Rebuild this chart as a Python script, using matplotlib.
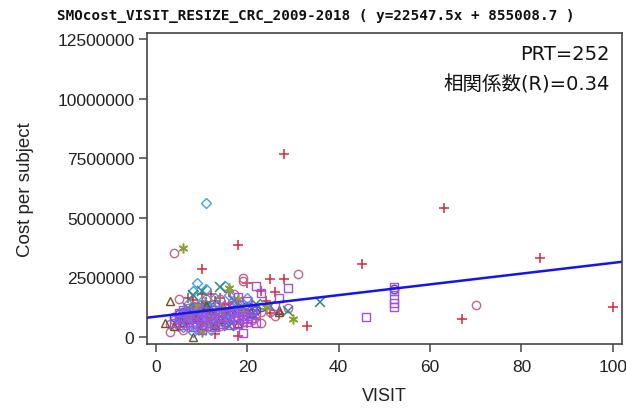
import numpy as np
import matplotlib
matplotlib.use("Agg")
import matplotlib.pyplot as plt

plt.rcParams['font.family'] = ['Liberation Sans', 'Noto Sans CJK JP']

# visits / cost per subject, one pair of lists per marker group
red_x = [28, 63, 18, 45, 84, 100, 67, 33, 10, 25, 28, 20, 23, 26, 12, 10, 13, 18, 25, 27,
         6, 7, 8, 9, 10, 11, 12, 13, 14, 15, 16, 17, 19, 20, 21, 22, 14, 16, 8, 11, 18, 24, 5, 20, 15, 7, 15]
red_y = [7680000, 5410000, 3860000, 3060000, 3310000, 1260000, 750000, 480000, 2850000, 2430000,
         2430000, 2260000, 1930000, 1890000, 1800000, 1800000, 130000, 40000, 1000000, 960000,
         900000, 700000, 1100000, 600000, 1300000, 800000, 1000000, 1500000, 1200000, 700000,
         1400000, 900000, 1100000, 600000, 1300000, 800000, 1650000, 1900000, 1550000, 1450000,
         1250000, 1500000, 400000, 950000, 1000000, 1650000, 1350000]

circ_x = [4, 31, 70, 19, 19, 5, 3, 23, 25, 22, 29, 17, 26,
          3, 4, 5, 5, 6, 6, 6, 7, 7, 7, 8, 8, 9, 9, 9, 10, 10, 10, 11, 11, 12, 12, 12, 13, 13,
          14, 14, 15, 15, 16, 16, 17, 18, 18, 19, 20, 21, 22, 23, 14, 8, 11]
circ_y = [3520000, 2640000, 1340000, 2470000, 2330000, 1590000, 200000, 1050000, 1050000, 1170000,
          1220000, 1800000, 900000,
          550000, 700000, 450000, 800000, 300000, 650000, 1000000, 400000, 850000, 1200000,
          550000, 950000, 350000, 750000, 1150000, 500000, 900000, 1400000, 650000, 1050000,
          400000, 800000, 1250000, 600000, 950000, 450000, 850000, 550000, 1100000, 700000,
          1300000, 500000, 800000, 1000000, 650000, 1200000, 700000, 950000, 600000, 1600000,
          1300000, 1600000]

sq_x = [46, 52, 52, 52, 52, 52, 22, 29, 19, 27, 23, 18, 20, 26,
        4, 5, 5, 6, 6, 7, 7, 8, 8, 9, 9, 10, 10, 11, 11, 12, 12, 13, 13, 14, 14, 15, 15, 16, 16,
        17, 17, 18, 18, 19, 19, 20, 20, 21, 21, 22, 6, 9, 13, 17, 10]
sq_y = [840000, 2100000, 1950000, 1600000, 1430000, 1260000, 2140000, 2050000, 170000, 1640000,
        1850000, 1680000, 1500000, 1300000,
        600000, 750000, 1000000, 500000, 850000, 650000, 1050000, 400000, 800000, 550000,
        950000, 700000, 1100000, 450000, 850000, 600000, 950000, 750000, 1150000, 550000,
        1000000, 800000, 1250000, 500000, 950000, 700000, 1150000, 550000, 900000, 750000,
        1050000, 650000, 900000, 800000, 1100000, 600000, 1150000, 1250000, 400000, 1350000, 300000]

dia_x = [11, 9, 8, 11, 15, 8, 16, 13, 7, 5, 6, 7, 8, 9, 10, 11, 12, 13, 14, 15, 16, 17, 18, 10, 12, 6, 20, 9]
dia_y = [5620000, 2260000, 1930000, 2000000, 2140000, 200000, 1750000, 1650000, 1400000, 700000,
         950000, 550000, 800000, 1100000, 650000, 900000, 1200000, 500000, 900000, 1050000,
         700000, 1000000, 1350000, 1500000, 300000, 400000, 1650000, 350000]

xm_x = [8, 14, 16, 29, 36, 25, 10, 6, 9, 11, 12, 13, 15, 17, 19, 21, 7, 22]
xm_y = [1760000, 2100000, 460000, 1090000, 1450000, 1300000, 1930000, 800000, 1000000, 1300000,
        650000, 1100000, 900000, 1500000, 1200000, 950000, 1200000, 1400000]

tri_x = [3, 2, 8, 13, 27, 27, 4, 6, 9, 10, 12, 14, 16, 18, 20, 11]
tri_y = [1510000, 590000, 0, 500000, 1130000, 1050000, 450000, 650000, 850000, 500000, 1000000,
         750000, 1150000, 600000, 1050000, 1350000]

ast_x = [6, 30, 10, 16, 7, 9, 12, 14, 18, 19, 11, 24]
ast_y = [3730000, 750000, 200000, 2050000, 900000, 1300000, 850000, 1200000, 1600000, 1000000,
         600000, 1250000]

bc_x = [52, 22, 5, 6, 7, 8, 9, 10, 11, 12, 13, 14, 15, 16, 17, 18, 19, 20, 21, 23, 4]
bc_y = [2000000, 1130000, 960000, 1050000, 750000, 1150000, 900000, 1050000, 1200000, 700000,
        1300000, 1050000, 650000, 1100000, 850000, 1200000, 900000, 1300000, 1000000, 1250000, 850000]

slope = 22547.5
intercept = 855008.7
n_prt = 252
r_value = 0.34

fig = plt.figure(figsize=(6.26, 4.10), dpi=100)
ax = fig.add_axes([0.2348, 0.1585, 0.7588, 0.7585])

groups = [
    (red_x, red_y, '+', '#d42a3c', False),
    (circ_x, circ_y, 'o', '#c8648c', True),
    (bc_x, bc_y, 'o', '#4646d2', True),
    (dia_x, dia_y, 'D', '#3ea2f0', True),
    (xm_x, xm_y, 'x', '#2a8a7e', False),
    (tri_x, tri_y, '^', '#70502c', True),
    (ast_x, ast_y, (6, 2, 0), '#8ca030', False),
    (sq_x, sq_y, 's', '#a04ee8', True),
]
for gx, gy, mk, col, hollow in groups:
    size = 4.8 if mk == 'D' else 6
    if hollow:
        ax.plot(gx, gy, linestyle='none', marker=mk, markersize=size,
                markerfacecolor='none', markeredgecolor=col, markeredgewidth=1.0)
    else:
        ax.plot(gx, gy, linestyle='none', marker=mk, markersize=7,
                color=col, markeredgewidth=1.1)

xl = np.array([-2, 102])
ax.plot(xl, slope * xl + intercept, color='#1414f0', linewidth=1.8)

ax.set_xlim(-1.97, 102.0)
ax.set_ylim(-294000, 12750000)
ax.set_xticks([0, 20, 40, 60, 80, 100])
ax.set_yticks([0, 2500000, 5000000, 7500000, 10000000, 12500000])
ax.set_yticklabels(['0', '2500000', '5000000', '7500000', '10000000', '12500000'])

for s in ax.spines.values():
    s.set_color('#444444')
    s.set_linewidth(1.2)
ax.tick_params(direction='out', length=6, width=1.1, color='#444444',
               labelsize=12.5, labelcolor='#222222')
ax.tick_params(axis='x', pad=5)
ax.tick_params(axis='y', pad=3)

ax.set_xlabel('VISIT', fontsize=13, labelpad=9, color='#222222')
ax.set_ylabel('Cost per subject', fontsize=13.5, labelpad=17, color='#222222')

note_font = ['DejaVu Sans', 'Noto Sans CJK JP']
ax.text(0.975, 0.935, f'PRT={n_prt}', transform=ax.transAxes, ha='right', va='center',
        fontsize=14, family=note_font, color='#111111')
ax.text(0.975, 0.835, f'相関係数(R)={r_value:.2f}', transform=ax.transAxes, ha='right',
        va='center', fontsize=14, family=note_font, color='#111111')

fig.text(0.505, 0.96, f'SMOcost_VISIT_RESIZE_CRC_2009-2018 ( y={slope}x + {intercept} )',
         ha='center', va='center', fontsize=10.3, fontweight='bold',
         family='DejaVu Sans Mono', color='#111111')

fig.savefig('out.png', dpi=100)
